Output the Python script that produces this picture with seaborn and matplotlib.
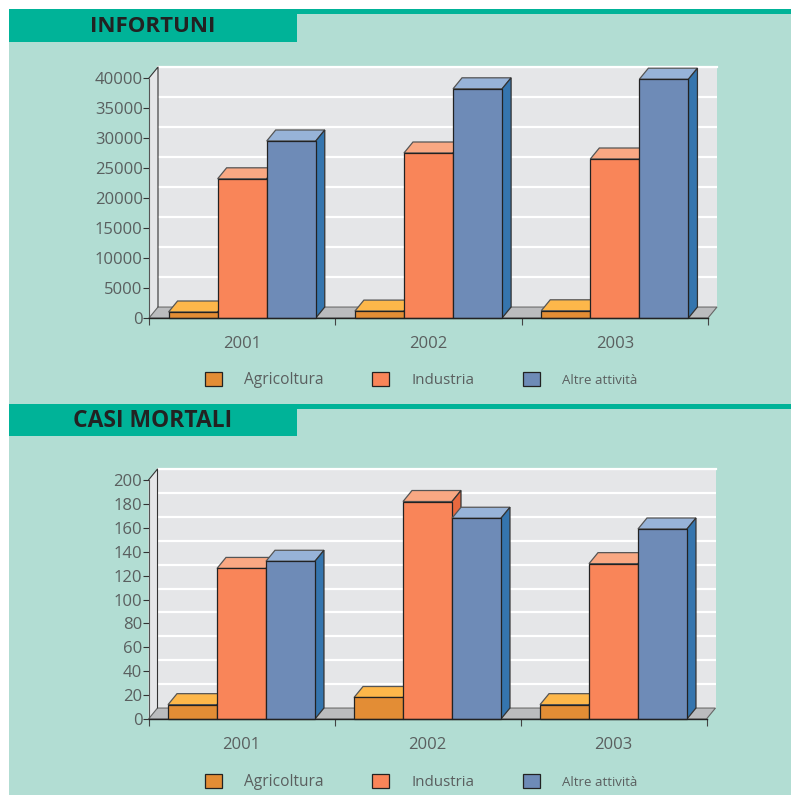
import matplotlib
matplotlib.use("Agg")
import matplotlib.pyplot as plt
from matplotlib.patches import Polygon, Rectangle, Patch
from matplotlib.ticker import MultipleLocator, FixedLocator, NullFormatter
import pandas as pd
import seaborn as sns

anni = ["2001", "2002", "2003"]
settori = ["Agricoltura", "Industria", "Altre attività"]

inf_agricoltura = [1000, 1150, 1200]
inf_industria = [23200, 27500, 26500]
inf_altre = [29500, 38200, 39800]

mor_agricoltura = [12, 18, 12]
mor_industria = [126, 182, 130]
mor_altre = [132, 168, 159]

front = {"Agricoltura": "#E38D35", "Industria": "#F98559", "Altre attività": "#6E8BB7"}
top = {"Agricoltura": "#FDB74A", "Industria": "#F9A883", "Altre attività": "#97B3D8"}
side = {"Agricoltura": "#C8702A", "Industria": "#E8693F", "Altre attività": "#3575AE"}

W, H = 791, 795
BG = "#B2DDD3"
TEAL = "#00B398"
WALL = "#E5E6E8"
FLOOR = "#BBBCBE"
TXT = "#5A5F5F"
FONT = ["Open Sans", "DejaVu Sans"]
DX, DY = 9, 11

sns.set_theme(style="white")
plt.rcParams["font.family"] = FONT
fig = plt.figure(figsize=(W / 100, H / 100), dpi=100, facecolor="white")


def rect(x0, y0, x1, y1, color):
    fig.add_artist(Rectangle((x0 / W, 1 - y1 / H), (x1 - x0) / W, (y1 - y0) / H,
                             transform=fig.transFigure, facecolor=color, edgecolor="none", zorder=-5))


def panel_axes(x0, ytop, x1, ybot, **kw):
    return fig.add_axes([x0 / W, 1 - ybot / H, (x1 - x0) / W, (ybot - ytop) / H], **kw)


rect(9, 9, W, H, BG)


def chart(title, title_x, title_size, y_line, y_banner, vals, ymax, step, x0, x1, ytop, ybot, legend_y):
    rect(9, y_line, W, y_line + 5, TEAL)
    rect(9, y_line, 297, y_banner, TEAL)
    fig.text(title_x / W, 1 - (y_line + y_banner) / 2 / H - 0.001, title, fontsize=title_size,
             fontweight="bold", color="#222222", va="center", ha="left", family=FONT)

    # back wall: same scale, displaced by the depth of the pseudo-3D box
    wall = panel_axes(x0 + DX, ytop - DY, x1 + DX, ybot - DY, facecolor=WALL, zorder=1)
    wall.set_xlim(-0.5, 2.5)
    wall.set_ylim(0, ymax)
    wall.yaxis.set_major_locator(MultipleLocator(step))
    wall.set_xticks([])
    wall.tick_params(left=False, labelleft=False)
    wall.grid(axis="y", color="white", lw=1.6)
    wall.set_axisbelow(True)
    for s in wall.spines.values():
        s.set_visible(False)
    wall.spines["top"].set_visible(True)
    wall.spines["top"].set_color("white")
    wall.spines["top"].set_linewidth(1.6)

    ax = panel_axes(x0, ytop, x1, ybot, facecolor="none", zorder=2)
    df = pd.DataFrame({
        "anno": anni * 3,
        "settore": [s for s in settori for _ in anni],
        "valore": vals[0] + vals[1] + vals[2],
    })
    sns.barplot(data=df, x="anno", y="valore", hue="settore", order=anni, hue_order=settori,
                palette=front, width=0.79, gap=0, saturation=1, edgecolor="#222222",
                linewidth=0.9, legend=False, ax=ax)
    ax.set_xlim(-0.5, 2.5)
    ax.set_ylim(0, ymax)
    ax.set_xlabel("")
    ax.set_ylabel("")

    sx = 3 / (x1 - x0) * DX
    sy = ymax / (ybot - ytop) * DY

    # side wall and floor
    ax.add_patch(Polygon([(-0.5, 0), (-0.5 + sx, sy), (-0.5 + sx, ymax + sy), (-0.5, ymax)],
                         closed=True, fc=WALL, ec="none", clip_on=False, zorder=0.5))
    ax.add_patch(Polygon([(-0.5, 0), (-0.5 + sx, sy), (2.5 + sx, sy), (2.5, 0)],
                         closed=True, fc=FLOOR, ec="#666666", lw=0.8, clip_on=False, zorder=0.6))
    ax.plot([-0.5, -0.5 + sx, -0.5 + sx], [ymax, ymax + sy, sy], color="#333333", lw=0.8,
            clip_on=False, zorder=0.7)

    # bars painted left to right, each with its top and side faces
    order = []
    for name, cont in zip(settori, ax.containers):
        for b in cont:
            order.append((b.get_x(), name, b))
    order.sort(key=lambda t: t[0])
    z = 3
    for _, name, b in order:
        xa, w, h = b.get_x(), b.get_width(), b.get_height()
        ax.add_patch(Polygon([(xa, h), (xa + sx, h + sy), (xa + w + sx, h + sy), (xa + w, h)],
                             closed=True, fc=top[name], ec="#555555", lw=0.9, clip_on=False, zorder=z))
        ax.add_patch(Polygon([(xa + w, 0), (xa + w + sx, sy), (xa + w + sx, h + sy), (xa + w, h)],
                             closed=True, fc=side[name], ec="#333333", lw=0.9, clip_on=False, zorder=z + 0.1))
        b.set_zorder(z + 0.2)
        b.set_clip_on(False)
        z += 1

    for s in ["top", "right"]:
        ax.spines[s].set_visible(False)
    ax.spines["left"].set_color("#555555")
    ax.spines["left"].set_linewidth(0.8)
    ax.spines["left"].set_linestyle((0, (1, 1)))
    ax.spines["bottom"].set_color("#222222")
    ax.spines["bottom"].set_linewidth(1.0)
    ax.spines["bottom"].set_zorder(50)
    ax.yaxis.set_major_locator(MultipleLocator(step))
    ax.tick_params(axis="y", left=True, length=4.5, width=0.8, color="#333333", labelsize=12,
                   labelcolor=TXT, pad=0)
    ax.xaxis.set_major_locator(FixedLocator([-0.5, 0.5, 1.5, 2.5]))
    ax.xaxis.set_major_formatter(NullFormatter())
    ax.xaxis.set_minor_locator(FixedLocator([0, 1, 2]))
    ax.set_xticklabels(anni, minor=True)
    ax.tick_params(axis="x", which="major", bottom=True, length=5, width=0.8, color="#444444")
    ax.tick_params(axis="x", which="minor", bottom=False, labelsize=12, labelcolor=TXT, pad=9)

    handles = [Patch(facecolor=front[s], edgecolor="#222222", linewidth=0.9) for s in settori]
    leg = ax.legend(handles, settori, ncol=3, frameon=False, loc="center left",
                    bbox_to_anchor=(197 / W, 1 - legend_y / H), bbox_transform=fig.transFigure,
                    fontsize=11.2, handlelength=1.08, handleheight=1.08, handletextpad=1.42,
                    columnspacing=3.14, borderpad=0, labelcolor=TXT)
    leg.get_texts()[1].set_fontsize(10.9)
    leg.get_texts()[2].set_fontsize(9.5)
    leg.set_zorder(60)


chart("INFORTUNI", 90, 16.0, 9, 42, [inf_agricoltura, inf_industria, inf_altre], 40000, 5000,
      149, 708, 78, 318, 380)
chart("CASI MORTALI", 73, 16.5, 404, 436, [mor_agricoltura, mor_industria, mor_altre], 200, 20,
      148.5, 706.5, 480, 719, 782)

fig.savefig("out.png", dpi=100)
